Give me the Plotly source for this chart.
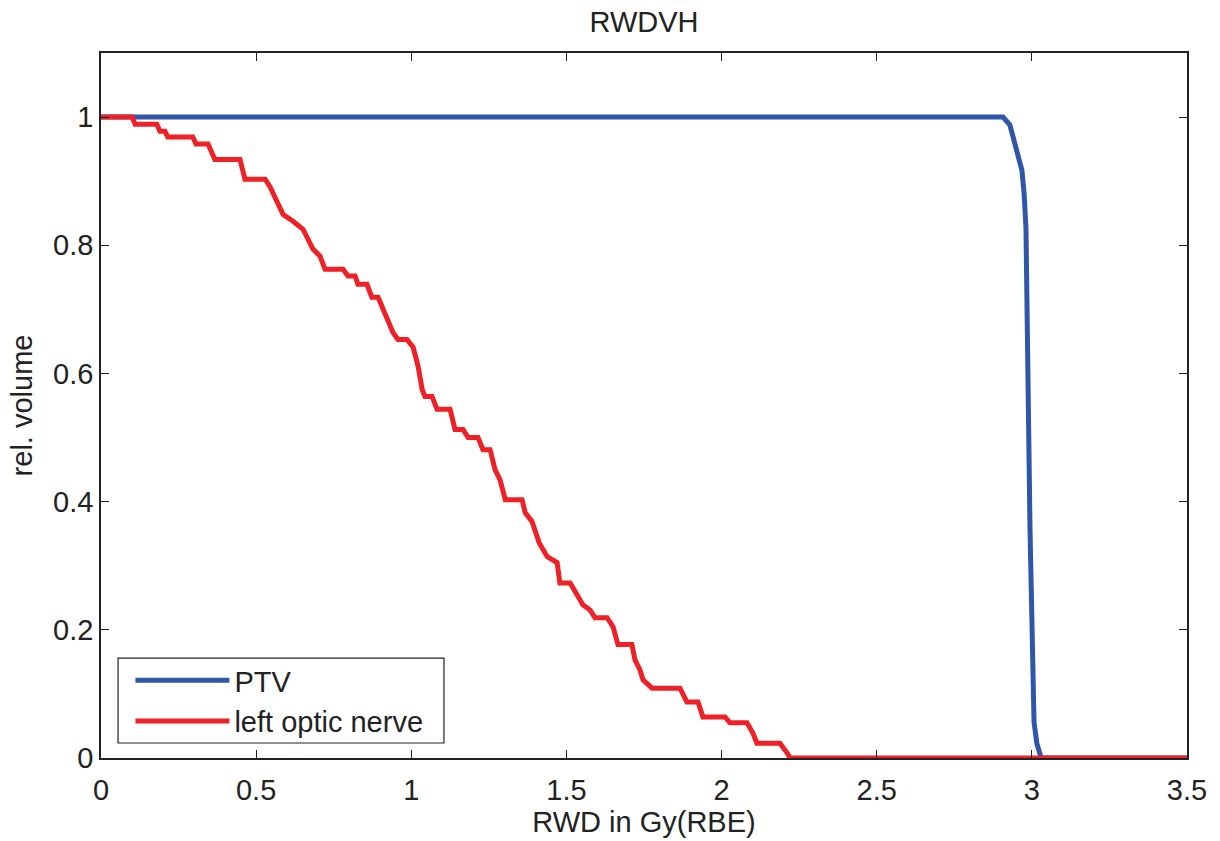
import plotly.graph_objects as go

# PTV curve (dose in Gy(RBE), relative volume)
ptv_x = [0.0, 2.907, 2.929, 2.952, 2.968, 2.975, 2.981, 2.994, 3.0, 3.007, 3.016, 3.03, 3.5]
ptv_y = [1.0, 1.0, 0.988, 0.948, 0.917, 0.881, 0.827, 0.358, 0.158, 0.056, 0.023, 0.0, 0.0]

# left optic nerve curve
on_x = [0.0, 0.100, 0.110, 0.180, 0.190, 0.206, 0.215, 0.296, 0.306, 0.345, 0.367, 0.448, 0.464,
        0.529, 0.545, 0.587, 0.619, 0.651, 0.683, 0.706, 0.722, 0.780, 0.796, 0.819, 0.828,
        0.857, 0.873, 0.893, 0.941, 0.957, 0.986, 1.006, 1.022, 1.035, 1.044, 1.067, 1.083,
        1.125, 1.141, 1.167, 1.183, 1.215, 1.231, 1.254, 1.270, 1.286, 1.303, 1.357, 1.367,
        1.389, 1.412, 1.438, 1.470, 1.479, 1.512, 1.527, 1.553, 1.576, 1.592, 1.631, 1.650,
        1.666, 1.711, 1.721, 1.737, 1.747, 1.776, 1.866, 1.888, 1.924, 1.940, 2.011, 2.027,
        2.082, 2.101, 2.114, 2.188, 2.211, 2.221, 3.5]
on_y = [1.0, 1.0, 0.989, 0.989, 0.978, 0.978, 0.969, 0.969, 0.958, 0.958, 0.934, 0.934, 0.903,
        0.903, 0.891, 0.848, 0.8375, 0.825, 0.794, 0.783, 0.7625, 0.7625, 0.752, 0.752, 0.739,
        0.739, 0.719, 0.719, 0.664, 0.653, 0.653, 0.641, 0.611, 0.575, 0.564, 0.564, 0.544,
        0.544, 0.5125, 0.5125, 0.5, 0.5, 0.481, 0.481, 0.45, 0.434, 0.403, 0.403, 0.383,
        0.369, 0.336, 0.314, 0.305, 0.273, 0.273, 0.26, 0.239, 0.231, 0.219, 0.219, 0.205,
        0.177, 0.177, 0.153, 0.1375, 0.122, 0.109, 0.109, 0.0875, 0.0875, 0.064, 0.064, 0.055,
        0.055, 0.039, 0.023, 0.023, 0.008, 0.0, 0.0]

x_ticks = [0, 0.5, 1, 1.5, 2, 2.5, 3, 3.5]
x_tick_text = ["0", "0.5", "1", "1.5", "2", "2.5", "3", "3.5"]
y_ticks = [0, 0.2, 0.4, 0.6, 0.8, 1]
y_tick_text = ["0", "0.2", "0.4", "0.6", "0.8", "1"]

BLUE = "#3056A8"
RED = "#EE2127"
INK = "#222222"
FONT = "Liberation Sans, Arial, sans-serif"
FS = 29

fig = go.Figure()
fig.add_trace(go.Scatter(x=ptv_x, y=ptv_y, mode="lines", name="PTV",
                         line=dict(color=BLUE, width=5)))
fig.add_trace(go.Scatter(x=on_x, y=on_y, mode="lines", name="left optic nerve",
                         line=dict(color=RED, width=5)))

axis_common = dict(showgrid=False, zeroline=False, showline=True, linecolor=INK,
                   linewidth=1.5, mirror="ticks", ticks="inside", ticklen=8,
                   tickwidth=1.2, tickcolor=INK,
                   tickfont=dict(family=FONT, size=FS, color=INK))

# legend frame (decoration, paper coordinates)
fig.add_shape(type="rect", xref="paper", yref="paper",
              x0=0.0157, x1=0.3158, y0=0.0213, y1=0.1418,
              line=dict(color=INK, width=1.2), fillcolor="white", layer="above")

fig.update_layout(
    width=1220, height=841,
    paper_bgcolor="white", plot_bgcolor="white",
    margin=dict(l=101, r=33, t=53, b=83),
    title=dict(text="RWDVH", xref="paper", x=0.5, xanchor="center", y=0.974, yanchor="middle",
               font=dict(family=FONT, size=FS, color=INK)),
    xaxis=dict(range=[0, 3.5], tickvals=x_ticks, ticktext=x_tick_text,
               ticklabelstandoff=5,
               title=dict(text="RWD in Gy(RBE)", standoff=0,
                          font=dict(family=FONT, size=FS, color=INK)),
               **axis_common),
    yaxis=dict(range=[0, 1.1], tickvals=y_ticks, ticktext=y_tick_text,
               title=dict(text="rel. volume", standoff=12,
                          font=dict(family=FONT, size=FS, color=INK)),
               **axis_common),
    legend=dict(x=0.0271, y=0.0156, xanchor="left", yanchor="bottom",
                bgcolor="rgba(0,0,0,0)", borderwidth=0,
                font=dict(family=FONT, size=FS, color=INK),
                itemwidth=94, tracegroupgap=0),
    showlegend=True,
)

fig.write_html("out.html")
